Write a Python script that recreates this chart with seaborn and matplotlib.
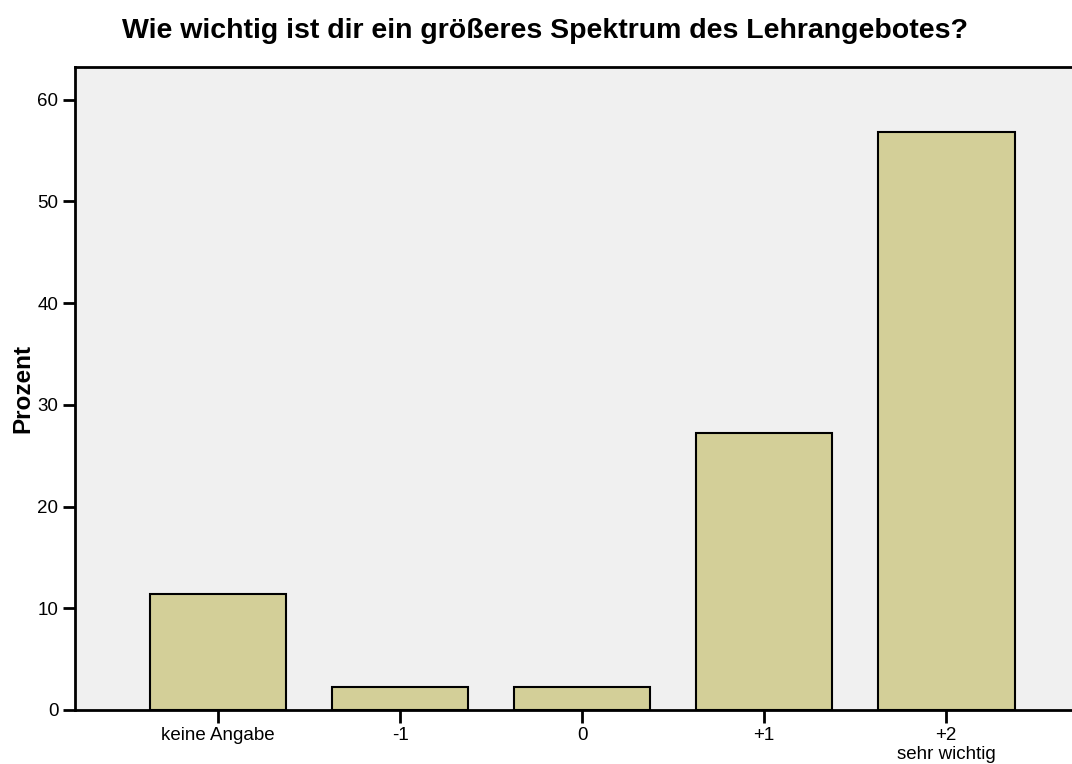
import matplotlib
matplotlib.use("Agg")
import matplotlib.pyplot as plt
import seaborn as sns
import pandas as pd

# answers (n=44) as percent
categories = ["keine Angabe", "-1", "0", "+1", "+2\nsehr wichtig"]
percent = [11.36, 2.27, 2.27, 27.27, 56.82]
y_ticks = [0, 10, 20, 30, 40, 50, 60]

df = pd.DataFrame({"antwort": categories, "prozent": percent})

sns.set_style("white")
plt.rcParams["font.family"] = ["Liberation Sans", "DejaVu Sans"]
plt.rcParams["text.color"] = "black"
plt.rcParams["axes.labelcolor"] = "black"

fig = plt.figure(figsize=(10.72, 7.64), dpi=100)
ax = fig.add_axes([0.070, 0.0707, 0.935, 0.8416])
ax.set_facecolor("#F0F0F0")

sns.barplot(data=df, x="antwort", y="prozent", color="#D3CF98", width=0.75,
            edgecolor="black", linewidth=1.5, saturation=1, ax=ax)

ax.set_xlim(-0.785, 4.72)
ax.set_ylim(0, 63.2)
ax.set_yticks(y_ticks)
ax.set_xlabel("")
ax.set_ylabel("Prozent", fontsize=17.5, fontweight="bold")
ax.yaxis.set_label_coords(-0.041, 0.5)

fig.text(0.508, 1 - 31 / 764, "Wie wichtig ist dir ein größeres Spektrum des Lehrangebotes?",
         fontsize=20.5, fontweight="bold", ha="center", va="center")

for side in ["left", "bottom", "top"]:
    ax.spines[side].set_visible(True)
    ax.spines[side].set_color("black")
    ax.spines[side].set_linewidth(2)
ax.spines["right"].set_visible(False)

ax.tick_params(axis="both", which="major", direction="out", length=9, width=2,
               colors="black", labelsize=13.5, pad=3, left=True, bottom=True)
for lbl in ax.get_xticklabels():
    lbl.set_multialignment("center")

fig.savefig("out.png", dpi=100)
